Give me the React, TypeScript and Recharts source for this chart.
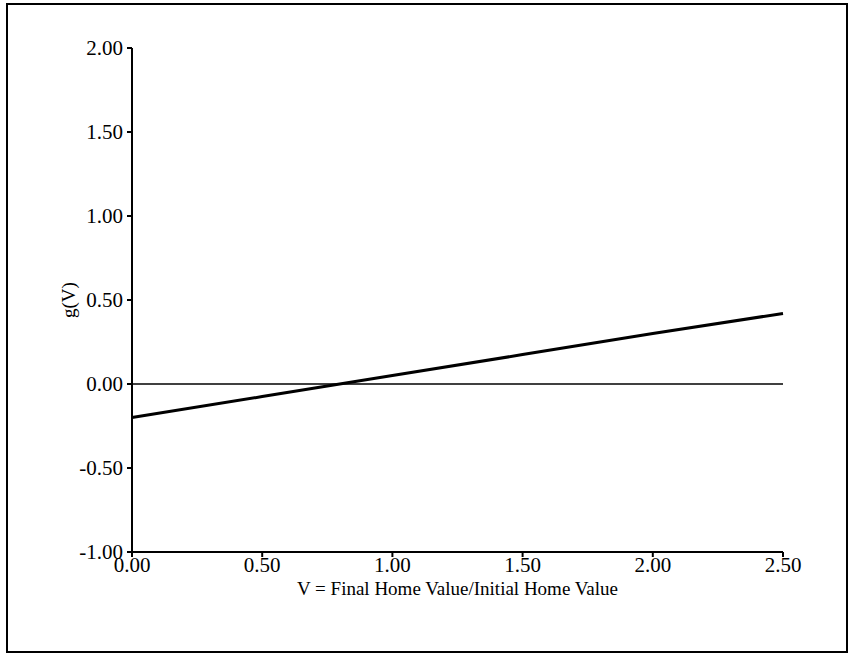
import { LineChart, Line, XAxis, YAxis, ReferenceLine, Label } from 'recharts';

const vValues = [0, 0.5, 1.0, 1.5, 2.0, 2.5];
const gValues = [-0.2, -0.075, 0.05, 0.175, 0.3, 0.42];
const xTicks = [0, 0.5, 1.0, 1.5, 2.0, 2.5];
const yTicks = [-1.0, -0.5, 0, 0.5, 1.0, 1.5, 2.0];

const data = vValues.map((v, i) => ({ v, g: gValues[i] }));

const font = 'Liberation Serif, Times New Roman, serif';

const XTick = (props: any) => {
  const { x, y, payload } = props;
  return (
    <text x={x} y={y + 15} textAnchor="middle" fill="#000" style={{ fontSize: 21, fontFamily: font }}>
      {Number(payload.value).toFixed(2)}
    </text>
  );
};

const YTick = (props: any) => {
  const { x, y, payload } = props;
  return (
    <text x={x - 3} y={y + 7} textAnchor="end" fill="#000" style={{ fontSize: 21, fontFamily: font }}>
      {Number(payload.value).toFixed(2)}
    </text>
  );
};

const App: React.FC = () => {
  return (
    <div style={{ position: 'absolute', left: 0, top: 0, width: 849, height: 655, background: '#fff' }}>
      <div
        style={{
          position: 'absolute',
          left: 6,
          top: 3,
          width: 838,
          height: 646,
          border: '2px solid #000',
        }}
      />
      <LineChart
        width={849}
        height={655}
        data={data}
        margin={{ top: 48, right: 66, bottom: 73, left: 72 }}
        style={{ position: 'absolute', left: 0, top: 0 }}
      >
        <XAxis
          xAxisId="bottom"
          dataKey="v"
          type="number"
          domain={[0, 2.5]}
          ticks={xTicks}
          tick={<XTick />}
          tickSize={5}
          tickMargin={0}
          height={30}
          stroke="#000"
          strokeWidth={2}
          interval={0}
        >
          <Label
            value="V = Final Home Value/Initial Home Value"
            position="bottom"
            offset={0}
            style={{ fill: '#000', fontSize: 19, fontFamily: font }}
          />
        </XAxis>
        <XAxis
          xAxisId="top"
          dataKey="v"
          type="number"
          domain={[0, 2.5]}
          orientation="top"
          tick={false}
          tickLine={false}
          height={0}
          stroke="#000"
          strokeWidth={2}
        />
        <YAxis
          yAxisId="left"
          type="number"
          domain={[-1, 2]}
          ticks={yTicks}
          tick={<YTick />}
          tickSize={5}
          tickMargin={1}
          width={60}
          stroke="#000"
          strokeWidth={2}
          interval={0}
        >
          <Label
            value="g(V)"
            angle={-90}
            position="left"
            offset={4}
            style={{ fill: '#000', fontSize: 19, fontFamily: font, textAnchor: 'middle' }}
          />
        </YAxis>
        <YAxis
          yAxisId="right"
          type="number"
          domain={[-1, 2]}
          orientation="right"
          tick={false}
          tickLine={false}
          width={0}
          stroke="#000"
          strokeWidth={2}
        />
        <ReferenceLine xAxisId="bottom" yAxisId="left" y={0} stroke="#000" strokeWidth={1.5} />
        <Line
          xAxisId="bottom"
          yAxisId="left"
          type="linear"
          dataKey="g"
          stroke="#000"
          strokeWidth={3}
          dot={false}
          isAnimationActive={false}
        />
      </LineChart>
    </div>
  );
};

export default App;
